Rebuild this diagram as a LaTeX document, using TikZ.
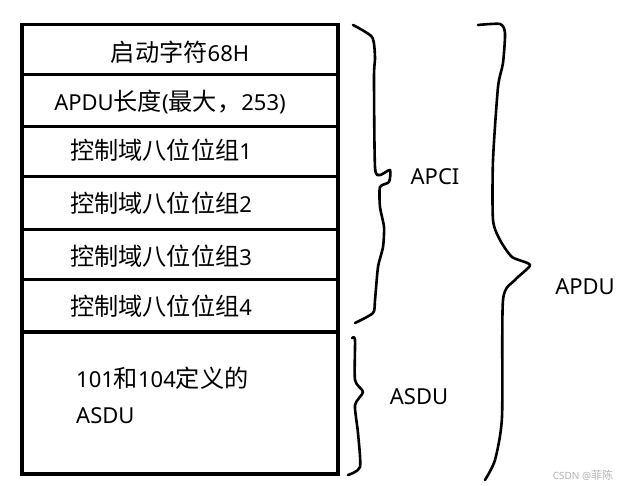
\documentclass[tikz,border=0pt]{standalone}
\usepackage{fontspec}
\setmainfont{Noto Sans}
\newfontfamily\cjk[Scale=1.1]{Noto Sans CJK SC}
\begin{document}
\begin{tikzpicture}[x=1pt,y=-1pt,
  row/.style={draw,line width=3.5pt,minimum width=316pt,anchor=north west,inner sep=0pt},
  lbl/.style={font=\fontsize{22}{26}\selectfont,inner sep=0pt},
  brace/.style={line width=2.6pt,line join=round,line cap=round}]
  \useasboundingbox (0,0) rectangle (621,486);
  % frame rows
  \foreach \i/\t/\h in {1/23/50,2/73/52,3/125/50,4/175/53,5/228/50,6/278/52,7/330/142}
    \node[row,minimum height=\h pt] (r\i) at (20,\t) {};
  % row texts
  \node[lbl] (t1) at (180,52) {{\cjk 启动字符}68H};
  \node[lbl] (t2) at (170,102) {APDU{\cjk 长度}({\cjk 最大，}253)};
  \node[lbl] (t3) at (161,150) {{\cjk 控制域八位位组}1};
  \node[lbl] (t4) at (161,203) {{\cjk 控制域八位位组}2};
  \node[lbl] (t5) at (161,256) {{\cjk 控制域八位位组}3};
  \node[lbl] (t6) at (161,306) {{\cjk 控制域八位位组}4};
  \node[lbl,anchor=west] (t7) at (76,378) {101{\cjk 和}104{\cjk 定义的}};
  \node[lbl,anchor=west] (t8) at (76,416) {ASDU};
  % braces
  \draw[brace] plot[smooth,tension=0.4] coordinates {(353,25) (372,37) (375,57) (374,77)
    (375,167) (380,175) (390,170) (389,182) (380,187) (380,207) (384,227) (383,247)
    (378,267) (375,300) (373,313) (355,323)};
  \draw[brace] plot[smooth,tension=0.4] coordinates {(352,338) (355,340) (355,380)
    (363,392) (355,405) (358,433) (360,467) (348,475)};
  \draw[brace] plot[smooth,tension=0.4] coordinates {(478,25) (500,24) (505,33) (503,63)
    (498,87) (493,160) (493,220) (500,240) (512,257) (530,265) (515,280) (503,300)
    (502,417) (495,460) (485,480)};
  \node[lbl] (apci) at (435,177) {APCI};
  \node[lbl] (asdu) at (419,397) {ASDU};
  \node[lbl] (apdu) at (585,287) {APDU};
  % watermark
  \node[font=\fontsize{10}{12}\selectfont,text=black!30,inner sep=0pt] (wm) at (583,475) {CSDN @{\cjk 菲陈}};
\end{tikzpicture}
\end{document}
